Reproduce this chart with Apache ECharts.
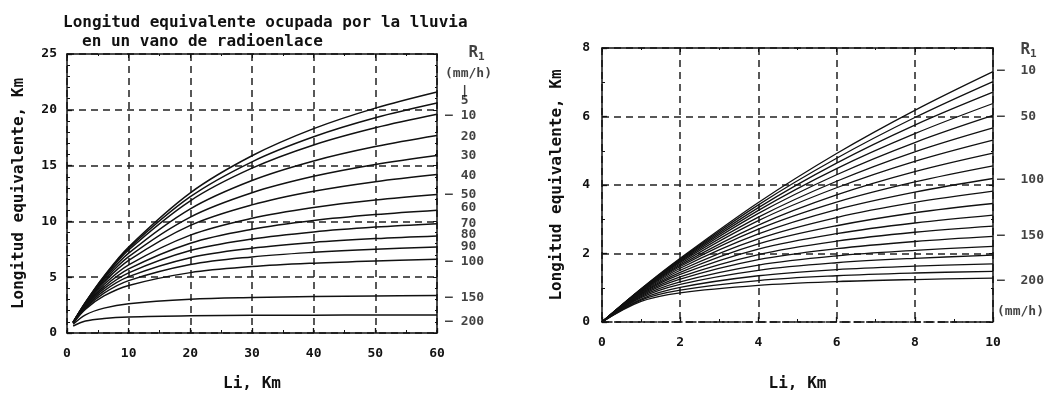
<!DOCTYPE html>
<html>
<head>
<meta charset="utf-8">
<script src="https://cdn.jsdelivr.net/npm/echarts@6/dist/echarts.min.js"></script>
<style>
  html, body { margin: 0; padding: 0; background: #fff; }
  #chart { width: 1054px; height: 397px; }
</style>
</head>
<body>
<div id="chart"></div>
<script>
// left panel: Li 0..60 km
const leftX = [1, 3, 6, 10, 20, 30, 40, 50, 60];
const leftRates = [1, 5, 10, 20, 30, 40, 50, 60, 70, 80, 90, 100, 150, 200];
const leftValues = [
  [0.97, 2.76, 5.09, 7.71, 12.56, 15.88, 18.31, 20.15, 21.6],
  [0.97, 2.74, 5.04, 7.58, 12.21, 15.34, 17.58, 19.28, 20.6],
  [0.97, 2.72, 4.97, 7.44, 11.85, 14.77, 16.85, 18.39, 19.6],
  [0.96, 2.68, 4.84, 7.15, 11.13, 13.67, 15.42, 16.71, 17.7],
  [0.96, 2.64, 4.70, 6.84, 10.39, 12.57, 14.04, 15.10, 15.9],
  [0.95, 2.58, 4.54, 6.50, 9.64, 11.48, 12.70, 13.56, 14.2],
  [0.94, 2.52, 4.34, 6.10, 8.77, 10.28, 11.24, 11.91, 12.4],
  [0.93, 2.45, 4.15, 5.74, 8.05, 9.30, 10.08, 10.61, 11.0],
  [0.92, 2.39, 3.97, 5.39, 7.39, 8.42, 9.06, 9.49, 9.8],
  [0.91, 2.32, 3.78, 5.05, 6.75, 7.60, 8.12, 8.46, 8.7],
  [0.90, 2.24, 3.57, 4.69, 6.13, 6.82, 7.23, 7.51, 7.7],
  [0.88, 2.14, 3.32, 4.26, 5.41, 5.95, 6.26, 6.46, 6.6],
  [0.78, 1.63, 2.23, 2.63, 3.02, 3.18, 3.27, 3.32, 3.36],
  [0.63, 1.07, 1.30, 1.43, 1.54, 1.58, 1.60, 1.61, 1.62]
];
const leftTags = ['   {r|R}{s|1}', '(mm/h)', '  |', '  5', '\u2013 10', '  20', '  30', '  40', '\u2013 50',
  '  60', '  70', '  80', '  90', '\u2013 100', '\u2013 150', '\u2013 200'];
const leftTagY = [25.1, 23.2, 21.6, 20.8, 19.5, 17.6, 15.9, 14.1, 12.4, 11.2, 9.8, 8.8, 7.7, 6.4, 3.2, 1.0];

// right panel: Li 0..10 km
const rightX = [0, 1, 2, 4, 6, 8, 10];
const rightRates = [10, 20, 30, 40, 50, 60, 70, 80, 90, 100, 110, 120, 130, 140, 150, 160, 170, 180, 190, 200];
const rightValues = [
  [0, 0.97, 1.86, 3.49, 4.92, 6.18, 7.31],
  [0, 0.96, 1.84, 3.42, 4.78, 5.97, 7.02],
  [0, 0.95, 1.82, 3.34, 4.64, 5.75, 6.71],
  [0, 0.95, 1.80, 3.26, 4.48, 5.50, 6.38],
  [0, 0.94, 1.77, 3.17, 4.30, 5.24, 6.03],
  [0, 0.93, 1.74, 3.06, 4.11, 4.97, 5.67],
  [0, 0.92, 1.70, 2.96, 3.92, 4.69, 5.31],
  [0, 0.91, 1.66, 2.83, 3.71, 4.39, 4.93],
  [0, 0.89, 1.62, 2.71, 3.50, 4.09, 4.56],
  [0, 0.88, 1.57, 2.57, 3.28, 3.79, 4.19],
  [0, 0.86, 1.51, 2.43, 3.05, 3.49, 3.82],
  [0, 0.84, 1.45, 2.28, 2.81, 3.19, 3.46],
  [0, 0.82, 1.39, 2.13, 2.58, 2.89, 3.12],
  [0, 0.80, 1.32, 1.97, 2.36, 2.62, 2.80],
  [0, 0.77, 1.25, 1.82, 2.14, 2.35, 2.50],
  [0, 0.74, 1.17, 1.66, 1.93, 2.09, 2.21],
  [0, 0.71, 1.10, 1.51, 1.73, 1.86, 1.95],
  [0, 0.67, 1.01, 1.35, 1.53, 1.63, 1.70],
  [0, 0.64, 0.93, 1.21, 1.35, 1.43, 1.48],
  [0, 0.60, 0.85, 1.07, 1.18, 1.24, 1.28]
];
const rightTags = ['   {r|R}{s|1}', '\u2013  10', '\u2013  50', '\u2013  100', '\u2013  150', '\u2013  200', '(mm/h)'];
const rightTagY = [7.95, 7.33, 6.0, 4.16, 2.53, 1.2, 0.31];

const FONT = '"DejaVu Sans Mono", "Liberation Mono", monospace';
const INK = '#111';

function mainX(grid, max, interval, gap) {
  return {
    gridIndex: grid, type: 'value', min: 0, max: max, interval: interval,
    name: 'Li, Km', nameLocation: 'middle', nameGap: gap,
    nameTextStyle: { fontFamily: FONT, fontSize: 16, fontWeight: 'bold', color: INK },
    axisLine: { lineStyle: { color: INK, width: 1.5, type: grid === 1 ? [10, 4] : 'solid' } },
    axisTick: { inside: true, length: 5, lineStyle: { color: INK, width: 1.3 } },
    minorTick: { show: true, splitNumber: 2, length: 3, lineStyle: { color: INK } },
    axisLabel: { fontFamily: FONT, fontWeight: 'bold', fontSize: 13, color: INK, margin: 14 },
    splitLine: { show: true, lineStyle: { color: '#222', width: 1.5, type: [7, 5] } }
  };
}
function mainY(grid, max, interval, minor, gap, margin) {
  return {
    gridIndex: grid, type: 'value', min: 0, max: max, interval: interval,
    name: 'Longitud equivalente, Km', nameLocation: 'middle', nameGap: gap, nameRotate: 90,
    nameTextStyle: { fontFamily: FONT, fontSize: 16, fontWeight: 'bold', color: INK },
    axisLine: { lineStyle: { color: INK, width: 1.5 } },
    axisTick: { inside: true, length: 5, lineStyle: { color: INK, width: 1.3 } },
    minorTick: { show: true, splitNumber: minor, length: 3, lineStyle: { color: INK } },
    axisLabel: { fontFamily: FONT, fontWeight: 'bold', fontSize: 13, color: INK, margin: margin },
    splitLine: { show: true, lineStyle: { color: '#222', width: 1.5, type: [7, 5] } }
  };
}
function frame(grid, max, interval, minor, pos) {
  return {
    gridIndex: grid, type: 'value', min: 0, max: max, interval: interval, position: pos,
    axisLine: { onZero: false, lineStyle: { color: INK, width: 1.5 } },
    axisTick: { inside: true, length: 4, lineStyle: { color: INK } },
    minorTick: { show: true, splitNumber: minor, length: 2, lineStyle: { color: INK } },
    axisLabel: { show: false },
    splitLine: { show: false }
  };
}

const series = [];
leftRates.forEach((r, i) => {
  series.push({
    name: 'L R=' + r, type: 'line', xAxisIndex: 0, yAxisIndex: 0,
    data: leftX.map((x, k) => [x, leftValues[i][k]]),
    smooth: 0.35, showSymbol: false, silent: true,
    lineStyle: { color: INK, width: 1.5 }
  });
});
rightRates.forEach((r, i) => {
  series.push({
    name: 'R R=' + r, type: 'line', xAxisIndex: 2, yAxisIndex: 2,
    data: rightX.map((x, k) => [x, rightValues[i][k]]),
    smooth: 0.35, showSymbol: false, silent: true,
    lineStyle: { color: INK, width: 1.3 }
  });
});
const tagLabel = {
  show: true, position: 'right', distance: 8, align: 'left', verticalAlign: 'middle',
  fontFamily: FONT, fontWeight: 'bold', fontSize: 13, color: INK,
  formatter: p => p.data[2],
  rich: {
    r: { fontFamily: FONT, fontSize: 16, color: INK },
    s: { fontFamily: FONT, fontSize: 11, fontWeight: 'bold', color: INK, padding: [8, 0, 0, 0] }
  }
};
series.push({
  type: 'scatter', xAxisIndex: 0, yAxisIndex: 0, symbolSize: 0, clip: false, silent: true,
  data: leftTags.map((t, i) => [60, leftTagY[i], t]), label: tagLabel
});
series.push({
  type: 'scatter', xAxisIndex: 2, yAxisIndex: 2, symbolSize: 0, clip: false, silent: true,
  data: rightTags.map((t, i) => [10, rightTagY[i], t]),
  label: Object.assign({}, tagLabel, { distance: 4 })
});

const chart = echarts.init(document.getElementById('chart'));
chart.setOption({
  backgroundColor: '#fff',
  animation: false,
  title: [
    { text: 'Longitud equivalente ocupada por la lluvia', left: 58, top: 10,
      textStyle: { fontFamily: FONT, fontSize: 16, fontWeight: 'bold', color: INK } },
    { text: 'en un vano de radioenlace', left: 77, top: 29,
      textStyle: { fontFamily: FONT, fontSize: 16, fontWeight: 'bold', color: INK } }
  ],
  grid: [
    { left: 67, top: 54, width: 370, height: 288 },
    { left: 602, top: 48, width: 391, height: 285 }
  ],
  xAxis: [
    mainX(0, 60, 10, 43),
    frame(0, 60, 10, 2, 'top'),
    mainX(1, 10, 2, 54),
    frame(1, 10, 2, 2, 'top')
  ],
  yAxis: [
    mainY(0, 25, 5, 5, 40, 10),
    frame(0, 25, 5, 5, 'right'),
    mainY(1, 8, 2, 2, 37, 12),
    frame(1, 8, 2, 2, 'right')
  ],
  series: series
});
window.addEventListener('resize', chart.resize);
</script>
</body>
</html>
